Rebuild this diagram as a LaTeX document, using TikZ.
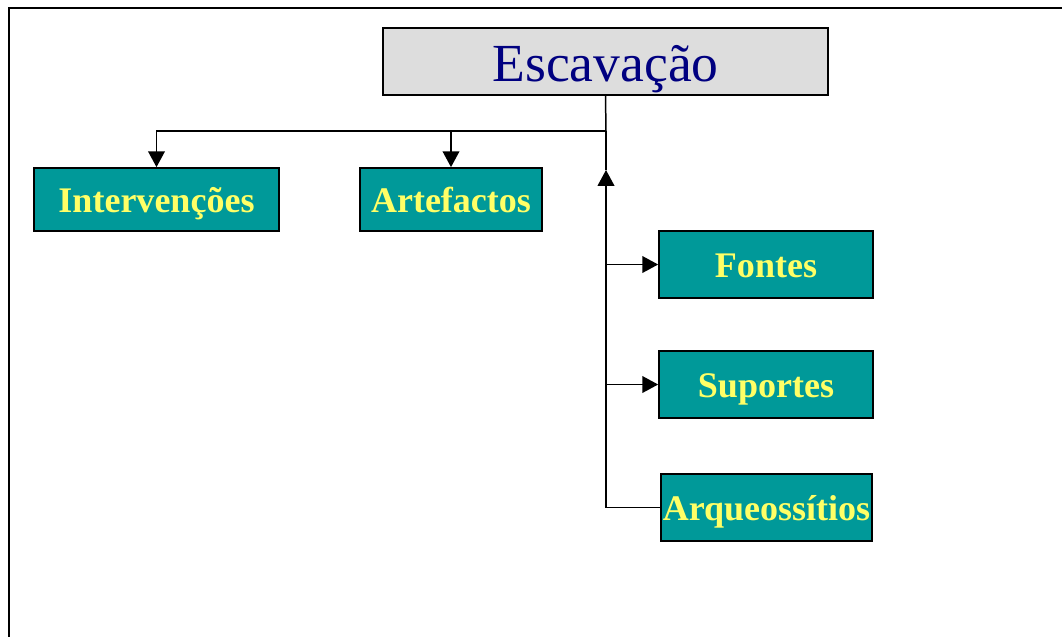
\documentclass[tikz,border=0pt]{standalone}
\usepackage{fontspec}
\setmainfont{Liberation Serif}
\usetikzlibrary{arrows.meta}
\definecolor{boxteal}{HTML}{009999}
\definecolor{boxyellow}{HTML}{FFFF66}
\definecolor{titlegray}{HTML}{DDDDDD}
\definecolor{titlenavy}{HTML}{000080}
\begin{document}
\begin{tikzpicture}[x=0.02cm, y=-0.02cm, >={Triangle[length=9pt,width=9.5pt]}, line join=miter,
	leaf/.style={draw=black, line width=1pt, fill=boxteal, text=boxyellow, inner sep=0pt,
		font=\fontsize{20.5}{24}\selectfont\bfseries, text height=0.52cm, text depth=0pt,
		minimum height=1.26cm},
	title/.style={draw=black, line width=1.1pt, fill=titlegray, text=titlenavy, inner sep=0pt,
		font=\fontsize{30.5}{36}\selectfont, text height=0.8cm, text depth=0pt,
		minimum width=8.9cm, minimum height=1.34cm},
	link/.style={line width=0.85pt}]
	\useasboundingbox (0,0) rectangle (1062,637);
	\def\xstem{606} \def\yrow{131}
	% outer frame, open to the right and below
	\draw[line width=1.2pt] (1062,8)--(9,8)--(9,637);
	\node[title] (esc) at (605.5,61.5) {Escavação};
	\node[leaf, minimum width=4.9cm] (interv) at (156.5,199.5) {Intervenções};
	\node[leaf, minimum width=3.64cm] (artef) at (451,199.5) {Artefactos};
	\node[leaf, minimum width=4.28cm, minimum height=1.34cm] (fontes) at (766,264.5) {Fontes};
	\node[leaf, minimum width=4.28cm, minimum height=1.34cm] (suportes) at (766,384.5) {Suportes};
	\node[leaf, minimum width=4.22cm, minimum height=1.34cm] (arqueo) at (766.5,507.5) {Arqueossítios};
	\coordinate (hub) at (\xstem,\yrow);
	\coordinate (tip) at (\xstem,170);
	\draw[link] (esc.south)--(hub);
	\draw[link,->] (hub)-|(interv.north);
	\draw[link,->] (artef.north|-hub)--(artef.north);
	\draw[link,->] (arqueo.west)-|(tip);
	\draw[link] (tip)--(hub);
	\draw[link,->] (fontes.west-|tip)--(fontes.west);
	\draw[link,->] (suportes.west-|tip)--(suportes.west);
\end{tikzpicture}
\end{document}
